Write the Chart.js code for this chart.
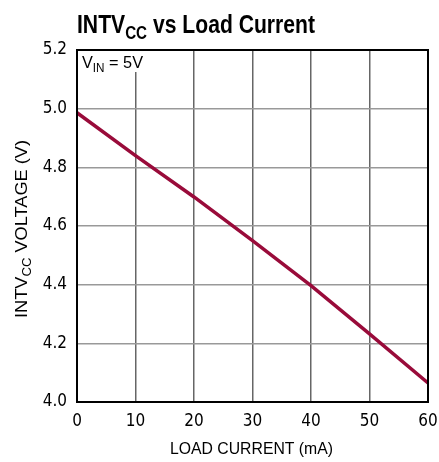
<!DOCTYPE html>
<html>
<head>
<meta charset="utf-8">
<script src="https://cdn.jsdelivr.net/npm/chart.js@4"></script>
<style>
  html, body { margin: 0; padding: 0; background: #fff; }
  #wrap { width: 439px; height: 462px; }
</style>
</head>
<body>
<div id="wrap"><canvas id="c" width="439" height="462"></canvas></div>
<script>
const TICK_FONT = "'DejaVu Sans Condensed', 'Liberation Sans', sans-serif";
const TEXT_FONT = "'Liberation Sans', Arial, sans-serif";

// Load current (mA) and INTVcc (V)
const loadCurrent = [0, 10, 20, 30, 40, 50, 60];
const intvcc = [4.986, 4.840, 4.699, 4.550, 4.397, 4.232, 4.065];
const xTicks = [0, 10, 20, 30, 40, 50, 60];
const yTicks = [4.0, 4.2, 4.4, 4.6, 4.8, 5.0, 5.2];

// text with subscript parts; squeezed horizontally to look like a condensed face
function subWidth(ctx, parts, size, weight) {
    let w = 0;
    for (const p of parts) {
        ctx.font = `${weight} ${p.sub ? size * 0.72 : size}px ${TEXT_FONT}`;
        w += ctx.measureText(p.t).width;
    }
    return w;
}
function drawSub(ctx, x, y, parts, size, weight, width) {
    const natural = subWidth(ctx, parts, size, weight);
    const k = width ? width / natural : 1;
    ctx.save();
    ctx.translate(x, y);
    ctx.scale(k, 1);
    let cx = 0;
    for (const p of parts) {
        const sz = p.sub ? size * 0.72 : size;
        ctx.font = `${weight} ${sz}px ${TEXT_FONT}`;
        ctx.fillText(p.t, cx, p.sub ? size * 0.24 : 0);
        cx += ctx.measureText(p.t).width;
    }
    ctx.restore();
}

const decor = {
    id: "decor",
    beforeDatasetsDraw(chart) {
        const { ctx, chartArea: a } = chart;
        ctx.save();
        // label box hides the grid behind V_IN
        ctx.fillStyle = "#fff";
        ctx.fillRect(a.left + 1, a.top + 1, 70, 21);
        ctx.fillStyle = "#000";
        ctx.textBaseline = "alphabetic";
        drawSub(ctx, a.left + 5, a.top + 18, [{ t: "V" }, { t: "IN", sub: true }, { t: " = 5V" }], 17, "normal", 61);
        ctx.restore();
    },
    afterDraw(chart) {
        const { ctx, chartArea: a } = chart;
        ctx.save();
        ctx.strokeStyle = "#000";
        ctx.lineWidth = 2;
        ctx.strokeRect(a.left, a.top, a.right - a.left, a.bottom - a.top);

        ctx.fillStyle = "#000";
        ctx.textBaseline = "alphabetic";
        drawSub(ctx, a.left, 33, [{ t: "INTV" }, { t: "CC", sub: true }, { t: " vs Load Current" }], 26, "bold", 238);

        ctx.save();
        ctx.translate(27, 229);
        ctx.rotate(-Math.PI / 2);
        drawSub(ctx, -89, 0, [{ t: "INTV" }, { t: "CC", sub: true }, { t: " VOLTAGE (V)" }], 17, "normal", 178);
        ctx.restore();

        drawSub(ctx, 170, 454, [{ t: "LOAD CURRENT (mA)" }], 17, "normal", 163);
        ctx.restore();
    }
};

new Chart(document.getElementById("c"), {
    type: "line",
    data: {
        datasets: [{
            data: loadCurrent.map((x, i) => ({ x, y: intvcc[i] })),
            borderColor: "#990b3a",
            borderWidth: 3.5,
            pointRadius: 0,
            tension: 0,
            fill: false,
        }],
    },
    options: {
        responsive: false,
        animation: false,
        layout: { padding: { left: 0, top: 50, right: 0, bottom: 0 } },
        plugins: { legend: { display: false }, tooltip: { enabled: false } },
        scales: {
            x: {
                type: "linear", min: 0, max: 60,
                afterBuildTicks: s => { s.ticks = xTicks.map(v => ({ value: v })); },
                afterFit: s => { s.height = 60; s.paddingRight = 11; },
                ticks: { color: "#000", font: { family: TICK_FONT, size: 17 }, padding: 9, maxRotation: 0 },
                grid: { color: "#666", lineWidth: 1.5, drawTicks: false },
                border: { display: false },
            },
            y: {
                type: "linear", min: 4.0, max: 5.2,
                afterBuildTicks: s => { s.ticks = yTicks.map(v => ({ value: v })); },
                afterFit: s => { s.width = 77; },
                ticks: { color: "#000", font: { family: TICK_FONT, size: 17 }, padding: 10, callback: v => v.toFixed(1) },
                grid: { color: "#999", lineWidth: 1.5, drawTicks: false },
                border: { display: false },
            },
        },
    },
    plugins: [decor],
});
</script>
</body>
</html>
